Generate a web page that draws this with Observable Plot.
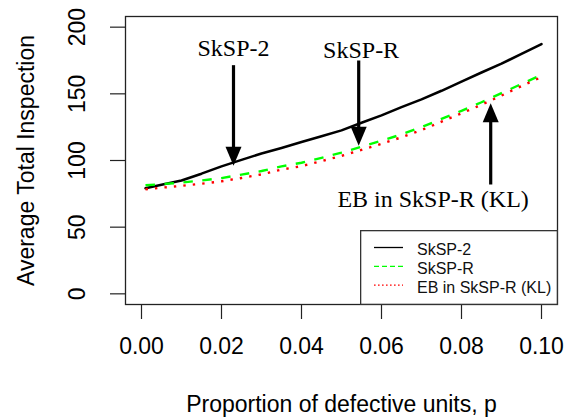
<!DOCTYPE html>
<html><head><meta charset="utf-8">
<script src="https://cdn.jsdelivr.net/npm/d3@7"></script>
<script src="https://cdn.jsdelivr.net/npm/@observablehq/plot@0.6"></script>
<style>
body{margin:0;background:#fff;}
#chart{position:relative;width:575px;height:419px;}
#legend{position:absolute;left:360px;top:230px;}
</style></head><body><div id="chart"></div>
<script>
// proportion of defective units
const p = [0.001, 0.005, 0.01, 0.015, 0.02, 0.025, 0.03, 0.035, 0.04, 0.045, 0.05,
           0.055, 0.06, 0.065, 0.07, 0.075, 0.08, 0.085, 0.09, 0.095, 0.1];
// Average total inspection per plan
const sksp2 = [79.2, 81.8, 85.0, 90.1, 95.6, 100.5, 105.2, 109.4, 113.9, 118.2, 122.6,
               128.3, 133.8, 140.0, 145.9, 152.3, 159.1, 166.0, 172.6, 180.0, 187.3];
const skspR = [81.4, 82.3, 83.4, 85.0, 86.8, 89.4, 92.1, 95.6, 98.3, 102.0, 105.9,
               110.3, 114.8, 119.6, 125.0, 131.2, 137.3, 143.7, 150.5, 157.4, 164.2];
const ebKL  = [78.4, 79.6, 81.0, 82.6, 84.4, 86.9, 89.6, 93.2, 95.8, 99.5, 103.5,
               108.0, 112.5, 117.4, 122.8, 129.1, 135.4, 141.8, 148.7, 155.8, 162.6];
const seriesNames = ["SkSP-2", "SkSP-R", "EB in SkSP-R (KL)"];
const seriesColors = ["#000000", "#00ff00", "#ff0000"];
const xTicks = [0, 0.02, 0.04, 0.06, 0.08, 0.10];
const yTicks = [0, 50, 100, 150, 200];
const xTitle = "Proportion of defective units, p";
const yTitle = "Average Total Inspection";
// annotations
const annLabels = ["SkSP-2", "SkSP-R", "EB in SkSP-R (KL)"];
const annLabelX = [0.023, 0.0549, 0.0729];
const annLabelY = [184, 183, 71];
const arrowX = [0.023, 0.0543, 0.0873];
const arrowFromY = [171.5, 175, 82];
const arrowToY = [96, 111, 143];

const pad = (a, b) => [a - (b - a) * 0.04, b + (b - a) * 0.04];
const idx = d3.range(arrowX.length);
const headDown = {draw(ctx) { ctx.moveTo(0, 0); ctx.lineTo(-8, -19); ctx.lineTo(8, -19); ctx.closePath(); }};
const headUp = {draw(ctx) { ctx.moveTo(0, 0); ctx.lineTo(-8, 19); ctx.lineTo(8, 19); ctx.closePath(); }};
const serif = "'Liberation Serif', 'Times New Roman', serif";

const chart = Plot.plot({
  width: 575, height: 419,
  marginLeft: 125, marginRight: 18, marginTop: 16, marginBottom: 115,
  style: {fontFamily: "'Liberation Sans', Arial, sans-serif", fontSize: "23px", color: "#000", background: "#fff"},
  x: {domain: pad(d3.min(xTicks), d3.max(xTicks))},
  y: {domain: pad(d3.min(yTicks), d3.max(yTicks))},
  marks: [
    Plot.axisX({ticks: xTicks, tickSize: 15, tickPadding: 18, tickFormat: d3.format(".2f"), fontSize: 23, label: null, stroke: "#222", strokeWidth: 1.2}),
    Plot.axisY({ticks: yTicks, tickSize: 15, tickPadding: 26, tickRotate: -90, fontSize: 23, label: null, stroke: "#222", strokeWidth: 1.2}),
    Plot.text([yTitle], {frameAnchor: "left", text: d => d, rotate: -90, dx: -91.5, textAnchor: "middle", lineAnchor: "bottom", fontSize: 23}),
    Plot.text([xTitle], {frameAnchor: "bottom", text: d => d, dy: 107.5, textAnchor: "middle", lineAnchor: "bottom", fontSize: 23}),
    Plot.line(p, {x: d => d, y: sksp2, stroke: seriesColors[0], strokeWidth: 2.5}),
    Plot.line(p, {x: d => d, y: skspR, stroke: seriesColors[1], strokeWidth: 2.4, strokeDasharray: "9.5,9.5", strokeLinecap: "butt"}),
    Plot.line(p, {x: d => d, y: ebKL, stroke: seriesColors[2], strokeWidth: 2.4, strokeDasharray: "2.4,7.1", strokeLinecap: "butt"}),
    Plot.text(annLabels, {x: (d, i) => annLabelX[i], y: (d, i) => annLabelY[i], text: d => d, fontFamily: serif, fontSize: 24, fill: "#000"}),
    Plot.arrow(idx, {x1: i => arrowX[i], y1: i => arrowFromY[i], x2: i => arrowX[i], y2: i => arrowToY[i], insetEnd: 15, headLength: 0, stroke: "#000", strokeWidth: 3.2, strokeLinecap: "butt"}),
    Plot.dot(idx.filter(i => arrowToY[i] < arrowFromY[i]), {x: i => arrowX[i], y: i => arrowToY[i], symbol: headDown, fill: "#000", stroke: null}),
    Plot.dot(idx.filter(i => arrowToY[i] > arrowFromY[i]), {x: i => arrowX[i], y: i => arrowToY[i], symbol: headUp, fill: "#000", stroke: null}),
    Plot.frame({stroke: "#222", strokeWidth: 1.3})
  ]
});
const host = document.getElementById("chart");
host.appendChild(chart);

// legend (bottom-right, inside the plot frame)
const lg = d3.select(host).append("svg").attr("id", "legend")
  .attr("width", 198).attr("height", 75)
  .style("font-family", "'Liberation Sans', Arial, sans-serif").style("font-size", "16px");
lg.append("rect").attr("x", 0.65).attr("y", 0.65).attr("width", 196.7).attr("height", 73.7)
  .attr("fill", "#fff").attr("stroke", "#333").attr("stroke-width", 1.3);
const dashes = [null, "5,3", "1.6,2.4"];
seriesNames.forEach((name, i) => {
  const cy = 19 + i * 18.8;
  lg.append("line").attr("x1", 14).attr("x2", 43).attr("y1", cy - 1.5).attr("y2", cy - 1.5)
    .attr("stroke", seriesColors[i]).attr("stroke-width", 1.3).attr("stroke-dasharray", dashes[i]);
  lg.append("text").attr("x", 57).attr("y", cy + 6).attr("fill", "#111").text(name);
});
</script></body></html>
